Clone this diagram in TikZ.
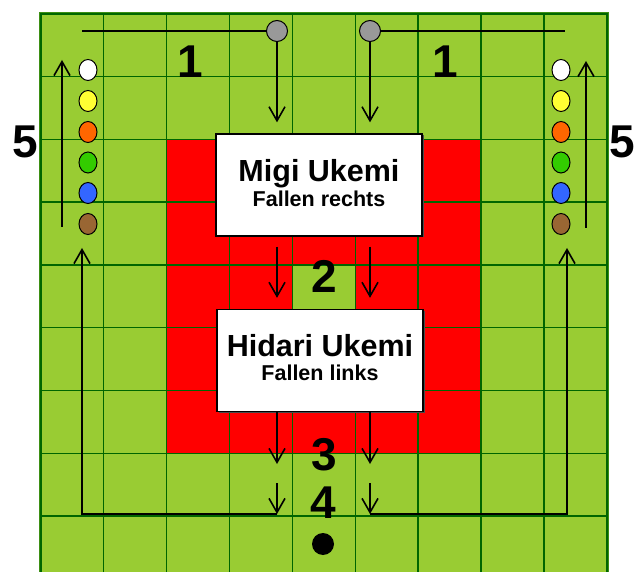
\documentclass[tikz,border=0pt]{standalone}
\usepackage{fontspec}
\setmainfont{Liberation Sans}
\usetikzlibrary{arrows.meta,shapes.geometric,shadows}
\definecolor{fieldgreen}{RGB}{153,204,51}
\definecolor{gridgreen}{RGB}{0,102,0}
\definecolor{matred}{RGB}{255,0,0}
\definecolor{stonegray}{RGB}{153,153,153}
\definecolor{beltyellow}{RGB}{255,255,51}
\definecolor{beltorange}{RGB}{255,102,0}
\definecolor{beltgreen}{RGB}{51,204,0}
\definecolor{beltblue}{RGB}{51,102,255}
\definecolor{beltbrown}{RGB}{153,102,51}
\begin{document}
\begin{tikzpicture}[x=1pt,y=-1pt,
 gridline/.style={gridgreen, line width=1.5pt},
 flow/.style={black, line width=1.2pt, -{Straight Barb[length=14pt,width=16pt,line width=1.6pt]}},
 link/.style={black, line width=1.3pt},
 stonedot/.style={circle, draw=black, line width=1pt, fill=stonegray, minimum size=21pt, inner sep=0pt},
 belt/.style={ellipse, draw=black, line width=1pt, minimum width=18pt, minimum height=21pt, inner sep=0pt},
 panel/.style={draw=black, line width=1.3pt, fill=white, minimum width=206pt, minimum height=102pt, inner sep=0pt,
   drop shadow={shadow xshift=1.5pt, shadow yshift=-1.5pt, fill=black!70, opacity=1}},
 title/.style={font=\bfseries\fontsize{30.5}{36}\selectfont, inner sep=0pt, anchor=base},
 subtitle/.style={font=\bfseries\fontsize{21.5}{26}\selectfont, inner sep=0pt, anchor=base},
 num/.style={font=\bfseries\fontsize{46}{52}\selectfont, inner sep=0pt, anchor=base},
]
\clip (0,0) rectangle (638,572);
\fill[white] (0,0) rectangle (638,572);
% field
\fill[fieldgreen] (40.5,14) rectangle (607,600);
\fill[matred] (166.4,139.5) rectangle (481.2,453.25);
\fill[fieldgreen] (292.3,265) rectangle (355.3,327.75);
\foreach \i in {0,...,9} {
  \draw[gridline] ({40.5+62.95*\i},14) -- ({40.5+62.95*\i},600);
}
\foreach \j in {0,...,9} {
  \draw[gridline] (40.5,{14+62.75*\j}) -- (607,{14+62.75*\j});
}
\draw[gridgreen!60!fieldgreen, line width=1pt] (39,12.5) rectangle (608.5,600);
\draw[gridgreen, line width=2pt] (40.5,14) rectangle (607,600);

% panels
\node[panel] (migi) at (319,185) {};
\node[panel] (hidari) at (320,360.5) {};
\node[title] (migi1) at (319,182) {Migi Ukemi};
\node[subtitle] (migi2) at (319,207) {Fallen rechts};
\node[title] (hidari1) at (320,357) {Hidari Ukemi};
\node[subtitle] (hidari2) at (320,381) {Fallen links};

% start points
\node[stonedot] (g1) at (277,31) {};
\node[stonedot] (g2) at (370,31) {};
\coordinate (tl) at (82,31);
\coordinate (tr) at (565,31);
\draw[link] (g1) -- (tl);
\draw[link] (g2) -- (tr);

% 1
\draw[flow, shorten >=11pt] (g1) -- (g1 |- migi.north);
\draw[flow, shorten >=11pt] (g2) -- (g2 |- migi.north);
% 2
\draw[flow, shorten <=10pt, shorten >=11pt] (migi.south -| g1) -- (hidari.north -| g1);
\draw[flow, shorten <=10pt, shorten >=11pt] (migi.south -| g2) -- (hidari.north -| g2);
% 3
\coordinate (a3l) at (277,464);
\coordinate (a3r) at (370,464);
\draw[flow] (hidari.south -| g1) -- (a3l);
\draw[flow] (hidari.south -| g2) -- (a3r);
% 4
\coordinate (a4l) at (277,483);
\coordinate (a4r) at (370,483);
\coordinate (bl) at (277,514);
\coordinate (br) at (370,514);
\draw[flow] (a4l) -- (bl);
\draw[flow] (a4r) -- (br);
% return
\coordinate (cl) at (82,514);
\coordinate (cr) at (567,514);
\coordinate (rl) at (82,248);
\coordinate (rr) at (567,248);
\draw[flow] (bl) -- (cl) -- (rl);
\draw[flow] (br) -- (cr) -- (rr);
% 5
\coordinate (fl0) at (62,227);
\coordinate (fl1) at (62,60);
\coordinate (fr0) at (586,228);
\coordinate (fr1) at (586,61);
\draw[flow] (fl0) -- (fl1);
\draw[flow] (fr0) -- (fr1);

% belts
\foreach \c/\y/\n in {white/70/w, beltyellow/101/y, beltorange/132/o, beltgreen/162.5/g, beltblue/193/b, beltbrown/224/r} {
  \node[belt, fill=\c] (bl\n) at (88,\y) {};
  \node[belt, fill=\c] (br\n) at (561,\y) {};
}

% numbers
\node[num] (n1l) at (190,78) {1};
\node[num] (n1r) at (445,78) {1};
\node[num] (n5l) at (25,158) {5};
\node[num] (n5r) at (622,158) {5};
\node[num] (n2) at (324,293) {2};
\node[num] (n3) at (324,470) {3};
\node[num] (n4) at (323,518) {4};
\node[circle, fill=black, minimum size=22pt, inner sep=0pt] (goal) at (323,544) {};
\end{tikzpicture}
\end{document}
